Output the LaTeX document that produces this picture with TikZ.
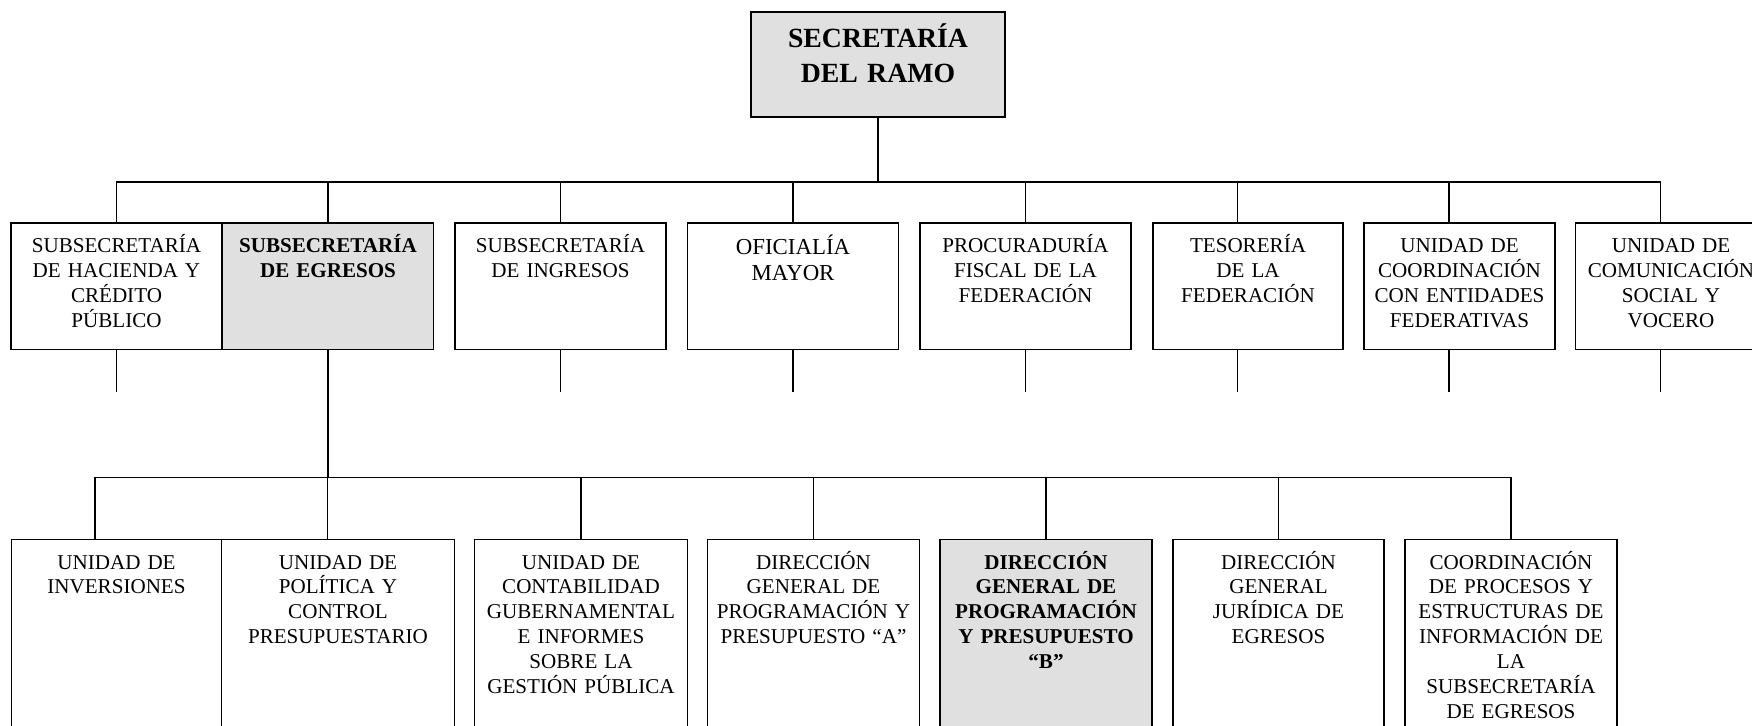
\documentclass[tikz,border=0pt]{standalone}
\usepackage{fontspec}
\setmainfont{Liberation Serif}
\usetikzlibrary{positioning}
\definecolor{granite}{RGB}{224,224,224}
\tikzstyle{unit} = [rectangle, draw=black, line width=1.1pt, inner xsep=0.05cm, inner ysep=0pt, text width=4.12cm, align=center, text height=0.59cm, text depth=1.94cm, font=\fontsize{12}{14.2}\selectfont]
\tikzstyle{lower} = [unit, text depth=4.01cm]
\tikzstyle{head} = [fill=granite, font=\bfseries\fontsize{12}{14.2}\selectfont]
\tikzstyle{line} = [line width=1pt]

\begin{document}
\begin{tikzpicture}[node distance=4.65cm]
\useasboundingbox (0,0) rectangle (35.04,-14.52);
\clip (0,0) rectangle (35.04,-14.52);

\node (top) [unit, head, text width=4.98cm, text height=0.714cm, text depth=1.386cm, font=\bfseries\fontsize{15.8}{19.7}\selectfont] at (17.56,-1.29) {SECRETARÍA\\DEL RAMO};

\node (hac) [unit] at (2.33,-5.725) {SUBSECRETARÍA\\DE HACIENDA Y\\CRÉDITO\\PÚBLICO};
\node (egr) [unit, head, right of=hac, xshift=-0.42cm] {SUBSECRETARÍA\\DE EGRESOS};
\node (ing) [unit, right of=egr] {SUBSECRETARÍA\\DE INGRESOS};
\node (ofi) [unit, right of=ing, text height=0.62cm, text depth=1.91cm, font=\fontsize{13}{15.2}\selectfont] {OFICIALÍA\\MAYOR};
\node (pro) [unit, right of=ofi] {PROCURADURÍA\\FISCAL DE LA\\FEDERACIÓN};
\node (tes) [unit, right of=pro, xshift=-0.2cm, text width=3.71cm] {TESORERÍA\\DE LA\\FEDERACIÓN};
\node (coo) [unit, right of=tes, xshift=-0.42cm, text width=3.72cm] {UNIDAD DE\\COORDINACIÓN\\CON ENTIDADES\\FEDERATIVAS};
\node (com) [unit, right of=coo, xshift=-0.42cm, text width=3.72cm] {UNIDAD DE\\COMUNICACIÓN\\SOCIAL Y\\VOCERO};

\node (inv) [lower, below of=hac, yshift=-2.715cm, text width=4.1cm] {UNIDAD DE\\INVERSIONES};
\node (pol) [lower, right of=inv, xshift=-0.22cm, text width=4.56cm] {UNIDAD DE\\POLÍTICA Y\\CONTROL\\PRESUPUESTARIO};
\node (con) [lower, right of=pol, xshift=0.21cm, text width=4.16cm] {UNIDAD DE\\CONTABILIDAD\\GUBERNAMENTAL\\E INFORMES\\SOBRE LA\\GESTIÓN PÚBLICA};
\node (dga) [lower, right of=con, text width=4.14cm] {DIRECCIÓN\\GENERAL DE\\PROGRAMACIÓN Y\\PRESUPUESTO “A”};
\node (dgb) [lower, head, right of=dga, text width=4.13cm] {DIRECCIÓN\\GENERAL DE\\PROGRAMACIÓN\\Y PRESUPUESTO\\“B”};
\node (jur) [lower, right of=dgb, text width=4.13cm] {DIRECCIÓN\\GENERAL\\JURÍDICA DE\\EGRESOS};
\node (cpe) [lower, right of=jur, text width=4.13cm] {COORDINACIÓN\\DE PROCESOS Y\\ESTRUCTURAS DE\\INFORMACIÓN DE\\LA\\SUBSECRETARÍA\\DE EGRESOS};

% first level
\coordinate (bar1) at ([yshift=-1.28cm]top.south);
\draw [line] (top.south) -- (bar1);
\draw [line] (bar1) -| (hac.north);
\draw [line] (bar1) -| (egr.north);
\draw [line] (bar1) -| (ing.north);
\draw [line] (bar1) -| (ofi.north);
\draw [line] (bar1) -| (pro.north);
\draw [line] (bar1) -| ([xshift=-0.21cm]tes.north);
\draw [line] (bar1) -| ([xshift=-0.21cm]coo.north);
\draw [line] (bar1) -| ([xshift=-0.21cm]com.north);

\draw [line] (hac.south) -- ([yshift=-0.84cm]hac.south);
\draw [line] (ing.south) -- ([yshift=-0.84cm]ing.south);
\draw [line] (ofi.south) -- ([yshift=-0.84cm]ofi.south);
\draw [line] (pro.south) -- ([yshift=-0.84cm]pro.south);
\draw [line] ([xshift=-0.21cm]tes.south) -- ([xshift=-0.21cm, yshift=-0.84cm]tes.south);
\draw [line] ([xshift=-0.21cm]coo.south) -- ([xshift=-0.21cm, yshift=-0.84cm]coo.south);
\draw [line] ([xshift=-0.21cm]com.south) -- ([xshift=-0.21cm, yshift=-0.84cm]com.south);

% second level
\coordinate (bar2) at ([yshift=-2.54cm]egr.south);
\draw [line] (egr.south) -- (bar2);
\draw [line] (bar2) -| ([xshift=-0.43cm]inv.north);
\draw [line] (bar2) -| ([xshift=-0.21cm]pol.north);
\draw [line] (bar2) -| (con.north);
\draw [line] (bar2) -| (dga.north);
\draw [line] (bar2) -| (dgb.north);
\draw [line] (bar2) -| (jur.north);
\draw [line] (bar2) -| (cpe.north);

\end{tikzpicture}
\end{document}
